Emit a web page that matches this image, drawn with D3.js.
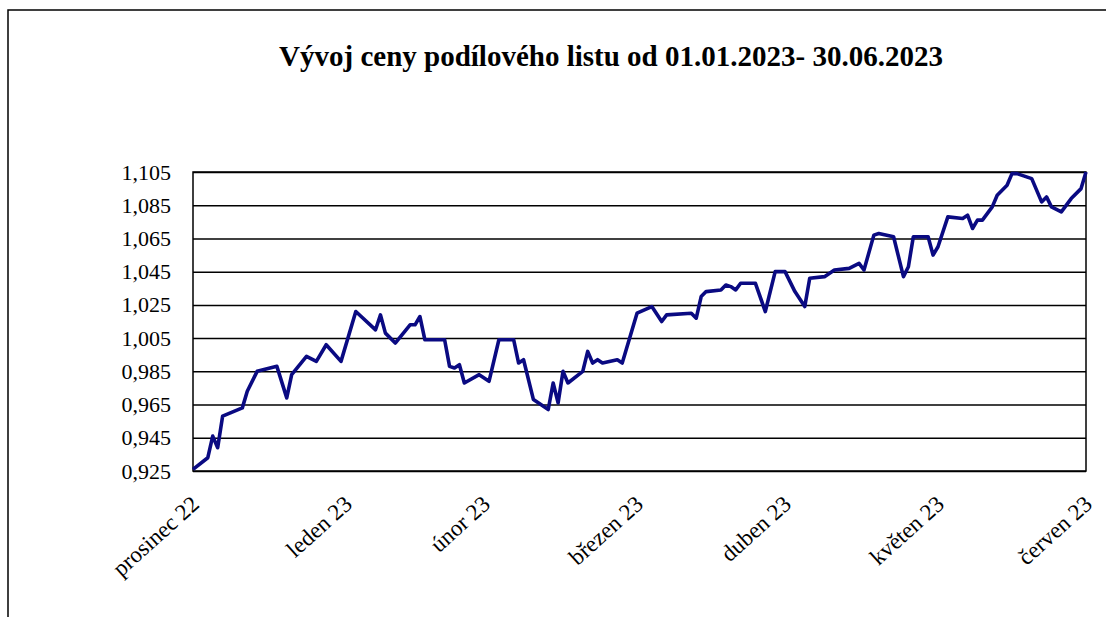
<!DOCTYPE html>
<html>
<head>
<meta charset="utf-8">
<script src="https://cdn.jsdelivr.net/npm/d3@7"></script>
<style>
  body { margin: 0; background: #fff; }
  svg { display: block; }
</style>
</head>
<body>
<div id="chart"></div>
<script>
const dates = ["2022-12-31","2023-01-03","2023-01-04","2023-01-05","2023-01-06","2023-01-10","2023-01-11","2023-01-13",
  "2023-01-17","2023-01-19","2023-01-20","2023-01-23","2023-01-25","2023-01-27","2023-01-30","2023-02-02",
  "2023-02-06","2023-02-07","2023-02-08","2023-02-10","2023-02-13","2023-02-14","2023-02-15","2023-02-16",
  "2023-02-20","2023-02-21","2023-02-22","2023-02-23","2023-02-24","2023-02-27","2023-03-01","2023-03-03",
  "2023-03-06","2023-03-07","2023-03-08","2023-03-10","2023-03-13","2023-03-14","2023-03-15","2023-03-16",
  "2023-03-17","2023-03-20","2023-03-21","2023-03-22","2023-03-23","2023-03-24","2023-03-27","2023-03-28",
  "2023-03-31","2023-04-03","2023-04-05","2023-04-06","2023-04-11","2023-04-12","2023-04-13","2023-04-14",
  "2023-04-17","2023-04-18","2023-04-19","2023-04-20","2023-04-21","2023-04-24","2023-04-26","2023-04-28",
  "2023-04-30","2023-05-02","2023-05-04","2023-05-05","2023-05-08","2023-05-10","2023-05-13","2023-05-15",
  "2023-05-16","2023-05-18","2023-05-19","2023-05-22","2023-05-24","2023-05-25","2023-05-26","2023-05-29",
  "2023-05-30","2023-05-31","2023-06-02","2023-06-05","2023-06-06","2023-06-07","2023-06-08","2023-06-09",
  "2023-06-11","2023-06-12","2023-06-14","2023-06-15","2023-06-16","2023-06-19","2023-06-21","2023-06-22",
  "2023-06-23","2023-06-25","2023-06-27","2023-06-29","2023-06-30"];

const prices = [0.926,0.933,0.946,0.939,0.958,0.963,0.973,0.985,
  0.988,0.969,0.983,0.994,0.991,1.001,0.991,1.021,
  1.010,1.019,1.008,1.002,1.013,1.013,1.018,1.004,
  1.004,0.988,0.987,0.989,0.978,0.983,0.979,1.004,
  1.004,0.990,0.992,0.968,0.962,0.978,0.966,0.985,
  0.978,0.985,0.997,0.990,0.992,0.990,0.992,0.990,
  1.020,1.024,1.015,1.019,1.020,1.017,1.030,1.033,
  1.034,1.037,1.036,1.034,1.038,1.038,1.021,1.045,
  1.045,1.033,1.024,1.041,1.042,1.046,1.047,1.050,
  1.046,1.067,1.068,1.066,1.042,1.048,1.066,1.066,
  1.055,1.060,1.078,1.077,1.079,1.071,1.076,1.076,
  1.084,1.091,1.097,1.104,1.104,1.101,1.087,1.090,
  1.084,1.081,1.089,1.095,1.105];

const monthTicks = ["2022-12-31","2023-01-31","2023-02-28","2023-03-31","2023-04-30","2023-05-31","2023-06-30"];
const monthLabels = ["prosinec 22","leden 23","únor 23","březen 23","duben 23","květen 23","červen 23"];
const yTicks = [0.925,0.945,0.965,0.985,1.005,1.025,1.045,1.065,1.085,1.105];

const parse = d3.timeParse("%Y-%m-%d");
const data = dates.map((d, i) => ({date: parse(d), value: prices[i]}));

const W = 1106, H = 617;
const margin = {top: 172, left: 193};
const width = 1086 - margin.left;
const height = 471 - margin.top;
const serif = "'Liberation Serif', 'Times New Roman', serif";

const svg = d3.select("#chart").append("svg")
    .attr("width", W)
    .attr("height", H);

// outer frame (cut off at right and bottom like the source)
svg.append("rect")
    .attr("x", 8).attr("y", 10)
    .attr("width", W + 20).attr("height", H + 20)
    .attr("fill", "none")
    .attr("stroke", "#000")
    .attr("stroke-width", 1.5);

svg.append("text")
    .attr("x", 611).attr("y", 66)
    .attr("text-anchor", "middle")
    .style("font-family", serif)
    .style("font-weight", "bold")
    .style("font-size", "29px")
    .text("Vývoj ceny podílového listu od 01.01.2023- 30.06.2023");

const g = svg.append("g")
    .attr("transform", `translate(${margin.left},${margin.top})`);

const x = d3.scaleTime()
    .domain([parse(monthTicks[0]), parse(monthTicks[monthTicks.length - 1])])
    .range([0, width]);

const y = d3.scaleLinear()
    .domain([0.925, 1.105])
    .range([height, 0]);

const fmt = v => d3.format(".3f")(v).replace(".", ",");

// gridlines
g.append("g")
    .call(d3.axisLeft(y).tickValues(yTicks).tickSize(-width).tickFormat(""))
    .call(s => s.select(".domain").remove())
    .call(s => s.selectAll("line").attr("stroke", "#000").attr("stroke-width", 1.5));

// y labels
g.append("g")
    .call(d3.axisLeft(y).tickValues(yTicks).tickSize(0).tickPadding(22).tickFormat(fmt))
    .call(s => s.select(".domain").remove())
    .call(s => s.selectAll("text")
        .style("font-family", serif)
        .style("font-size", "22px")
        .attr("fill", "#000"));

// x labels
const xAxis = g.append("g")
    .attr("transform", `translate(0,${height})`)
    .call(d3.axisBottom(x).tickValues(monthTicks.map(parse)).tickSize(0)
        .tickFormat((d, i) => monthLabels[i]));
xAxis.select(".domain").remove();
xAxis.selectAll("text")
    .style("font-family", serif)
    .style("font-size", "23px")
    .attr("fill", "#000")
    .attr("text-anchor", "end")
    .attr("x", 0).attr("y", 0).attr("dy", 0)
    .attr("transform", "translate(7,35) rotate(-42)");

// plot area frame
g.append("rect")
    .attr("width", width).attr("height", height)
    .attr("fill", "none")
    .attr("stroke", "#000")
    .attr("stroke-width", 1.5);

const line = d3.line()
    .x(d => x(d.date))
    .y(d => y(d.value));

g.append("path")
    .datum(data)
    .attr("fill", "none")
    .attr("stroke", "#0a0a82")
    .attr("stroke-width", 3.6)
    .attr("stroke-linejoin", "round")
    .attr("d", line);
</script>
</body>
</html>
